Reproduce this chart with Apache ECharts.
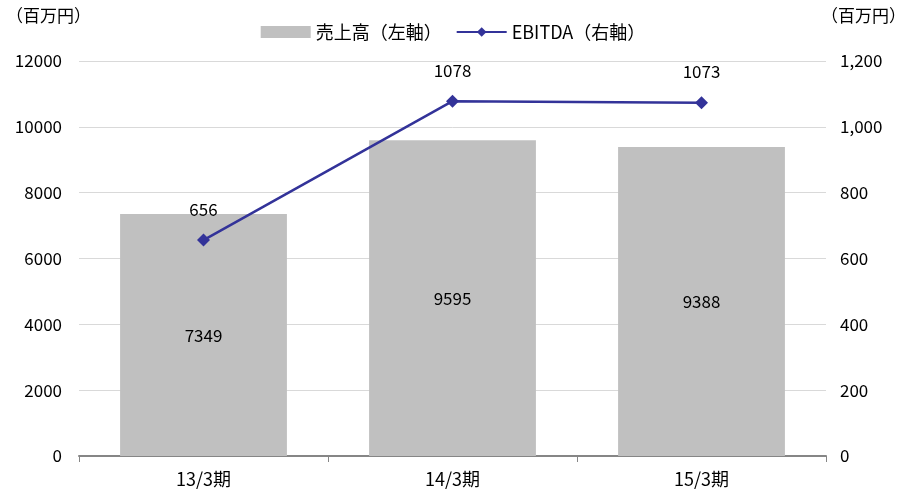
<!DOCTYPE html>
<html>
<head>
<meta charset="utf-8">
<script src="https://cdn.jsdelivr.net/npm/echarts@6/dist/echarts.min.js"></script>
<style>
  html, body { margin: 0; padding: 0; background: #fff; }
  #chart { width: 906px; height: 493px; }
</style>
</head>
<body>
<div id="chart"></div>
<script>
// Fiscal periods and values (millions of yen)
const categories = ['13/3期', '14/3期', '15/3期'];
const salesValues = [7349, 9595, 9388];
const ebitdaValues = [656, 1078, 1073];
const leftTicks = { min: 0, max: 12000, interval: 2000 };
const rightTicks = { min: 0, max: 1200, interval: 200 };
const unitLabel = '（百万円）';
const salesName = '売上高（左軸）';
const ebitdaName = 'EBITDA（右軸）';

const font = '"Noto Sans CJK JP", "Noto Sans", sans-serif';
const chart = echarts.init(document.getElementById('chart'));

chart.setOption({
  animation: false,
  backgroundColor: '#ffffff',
  textStyle: { fontFamily: font, color: '#000' },
  graphic: [
    { type: 'text', left: 6, top: 7, style: { text: unitLabel, fontSize: 17, fontFamily: font, fill: '#000' } },
    { type: 'text', right: 0, top: 7, style: { text: unitLabel, fontSize: 17, fontFamily: font, fill: '#000' } }
  ],
  legend: {
    top: 18,
    left: 'center',
    itemGap: 14,
    itemWidth: 50,
    itemHeight: 12,
    textStyle: { fontSize: 18, fontFamily: font, color: '#000' },
    data: [
      { name: salesName, icon: 'rect' },
      { name: ebitdaName }
    ]
  },
  grid: { left: 79, right: 80, top: 61, bottom: 37 },
  xAxis: {
    type: 'category',
    data: categories,
    axisLine: { lineStyle: { color: '#868686', width: 2 } },
    axisTick: { show: true, length: 6, lineStyle: { color: '#868686', width: 1 } },
    axisLabel: { fontSize: 18, color: '#000', fontFamily: font, margin: 14 }
  },
  yAxis: [
    {
      type: 'value',
      min: leftTicks.min, max: leftTicks.max, interval: leftTicks.interval,
      axisLine: { show: false },
      axisTick: { show: false },
      splitLine: { lineStyle: { color: '#d9d9d9', width: 1 } },
      axisLabel: {
        fontSize: 17, color: '#000', fontFamily: font, margin: 17,
        formatter: v => String(v)
      }
    },
    {
      type: 'value',
      min: rightTicks.min, max: rightTicks.max, interval: rightTicks.interval,
      axisLine: { show: false },
      axisTick: { show: false },
      splitLine: { show: false },
      axisLabel: {
        fontSize: 17, color: '#000', fontFamily: font, margin: 14,
        formatter: v => v.toLocaleString('en-US')
      }
    }
  ],
  series: [
    {
      name: salesName,
      type: 'bar',
      data: salesValues,
      yAxisIndex: 0,
      barWidth: '67%',
      itemStyle: { color: '#c0c0c0' },
      label: {
        show: true, position: 'inside', fontSize: 17, color: '#000', fontFamily: font
      }
    },
    {
      name: ebitdaName,
      type: 'line',
      data: ebitdaValues,
      yAxisIndex: 1,
      symbol: 'diamond',
      symbolSize: 13,
      itemStyle: { color: '#333399' },
      lineStyle: { color: '#333399', width: 2.5 },
      label: {
        show: true, position: 'top', distance: 16, fontSize: 17, color: '#000', fontFamily: font
      }
    }
  ]
});
</script>
</body>
</html>
